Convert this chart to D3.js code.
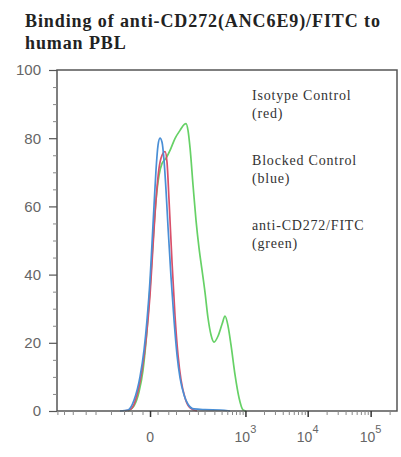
<!DOCTYPE html>
<html><head><meta charset="utf-8">
<script src="https://cdn.jsdelivr.net/npm/d3@7"></script>
<style>body{margin:0;background:#fff}svg{display:block}</style>
</head><body>
<script>
const titleLines = ["Binding of anti-CD272(ANC6E9)/FITC to", "human PBL"];
const legendLines = [["Isotype Control","(red)"],["Blocked Control","(blue)"],["anti-CD272/FITC","(green)"]];
const yTicks = [0,20,40,60,80,100];
const xMajor = [0,1e3,1e4,1e5];
const xMajorExp = [null,3,4,5];
const xMinor = [-900,-700,-500,-300,-200,-100,-50,-30,-10,10,30,50,100,150,200,300,400,500,600,700,800,900,
  2e3,3e3,4e3,5e3,6e3,7e3,8e3,9e3,2e4,3e4,4e4,5e4,6e4,7e4,8e4,9e4,2e5];

// Blocked control (blue)
const blueX = [-63,-39,-25,-14,-7.7,-3.7,0,2.4,5.0,7.7,10.7,13.9,17.4,21.1,25.1,29.4,36.5,44.4,53.2,63,77.9,95,126,204,377,556];
const blueY = [0,0.3,3.2,10,17.9,26.6,38.4,49.2,60.3,70.6,77.9,80,78.8,73.5,64.7,53.9,39.2,26.6,16.4,9.7,4.7,2,0.6,0.4,0.3,0];
// Isotype control (red)
const redX = [-50,-31.7,-19.2,-10.7,-5.0,0,3.7,7.7,12.3,17.4,23.1,27.2,31.7,39,47,56.3,66.5,82,105,144];
const redY = [0,0.6,4.7,12,20.8,34,48.6,61.8,71.2,75,76.1,72.9,61.8,43.6,28.1,16.4,9.1,3.8,0.9,0];
// anti-CD272/FITC (green)
const greenX = [-39,-25,-15.6,-9.2,-3.7,0,3.7,7.7,12.3,17.4,25.1,34,47,63,77.9,86.2,95,105,120.5,138,158,179.7,204,231.6,262,296,348,408,458,515,578,675,786,913,1024];
const greenY = [0,1.5,5.6,12,23.7,36,50,61.8,69.1,72.6,74.1,76.4,79.9,82.3,84,84.3,82.3,77,66.2,55.9,47.7,41.3,34.8,27.2,22.3,20.2,22,25.5,27.8,24.9,19.3,10.5,3.8,0.3,0];

const W = 401, H = 457;
const margin = {left:57, right:4, top:70, bottom:46};
const svg = d3.select("body").append("svg").attr("width",W).attr("height",H);

const x = d3.scaleSymlog().constant(31.6).domain([-914, 262000]).range([margin.left, W - margin.right]);
const y = d3.scaleLinear().domain([0,100]).range([H - margin.bottom, margin.top]);

// title
svg.append("g").selectAll("text").data(titleLines).join("text")
  .attr("x", 25).attr("y", (d,i)=> 27 + i*22)
  .attr("font-family","Liberation Serif, Times New Roman, serif")
  .attr("font-weight","bold").attr("font-size",18).attr("letter-spacing",0.9).attr("fill","#222")
  .text(d=>d);

// curves
const series = [
  {xs: greenX, ys: greenY, color:"#66d166"},
  {xs: redX, ys: redY, color:"#d9506a"},
  {xs: blueX, ys: blueY, color:"#4a8fd6"}
];
const line = d3.line().x(d=>x(d[0])).y(d=>y(d[1])).curve(d3.curveMonotoneX);
series.forEach(s=>{
  svg.append("path").datum(s.xs.map((v,i)=>[v,s.ys[i]]))
    .attr("d", line).attr("fill","none").attr("stroke", s.color).attr("stroke-width",1.7);
});

// frame
svg.append("rect").attr("x", margin.left).attr("y", margin.top)
  .attr("width", W - margin.right - margin.left).attr("height", H - margin.bottom - margin.top)
  .attr("fill","none").attr("stroke","#555").attr("stroke-width",1.5);

// y axis
const yAxis = d3.axisLeft(y).tickValues(yTicks).tickSize(8).tickPadding(8);
const gy = svg.append("g").attr("transform",`translate(${margin.left},0)`).call(yAxis);
gy.select(".domain").remove();
gy.selectAll("line").attr("stroke","#555").attr("stroke-width",1.2);
gy.selectAll("text").attr("font-family","Liberation Sans, Arial, sans-serif").attr("font-size",15).attr("fill","#666");
const yMinor = d3.range(5,100,5).filter(v=>v%20!==0);
const gym = svg.append("g").attr("transform",`translate(${margin.left},0)`).call(d3.axisLeft(y).tickValues(yMinor).tickSize(4).tickFormat(""));
gym.select(".domain").remove();
gym.selectAll("line").attr("stroke","#888");

// x axis
const gx = svg.append("g").attr("transform",`translate(0,${H - margin.bottom})`)
  .call(d3.axisBottom(x).tickValues(xMajor).tickSize(6).tickFormat(""));
gx.select(".domain").remove();
gx.selectAll("line").attr("stroke","#333").attr("stroke-width",1.5);
const gxm = svg.append("g").attr("transform",`translate(0,${H - margin.bottom})`)
  .call(d3.axisBottom(x).tickValues(xMinor).tickSize(4).tickFormat(""));
gxm.select(".domain").remove();
gxm.selectAll("line").attr("stroke","#888");

// x labels
const xl = svg.append("g").attr("font-family","Liberation Sans, Arial, sans-serif").attr("fill","#666");
xMajor.forEach((v,i)=>{
  const t = xl.append("text").attr("x", x(v)).attr("y", 442).attr("text-anchor","middle").attr("font-size",14);
  if (xMajorExp[i]===null) { t.text("0"); }
  else {
    t.append("tspan").text("10");
    t.append("tspan").attr("dy",-9).attr("font-size",11).text(xMajorExp[i]);
  }
});

// legend
const lg = svg.append("g").attr("font-family","Liberation Serif, Times New Roman, serif").attr("font-size",14).attr("letter-spacing",0.8).attr("fill","#333");
legendLines.forEach((pair,i)=>{
  pair.forEach((t,j)=>{
    lg.append("text").attr("x",252).attr("y", 100 + i*65 + j*18).text(t);
  });
});
</script>
</body></html>
